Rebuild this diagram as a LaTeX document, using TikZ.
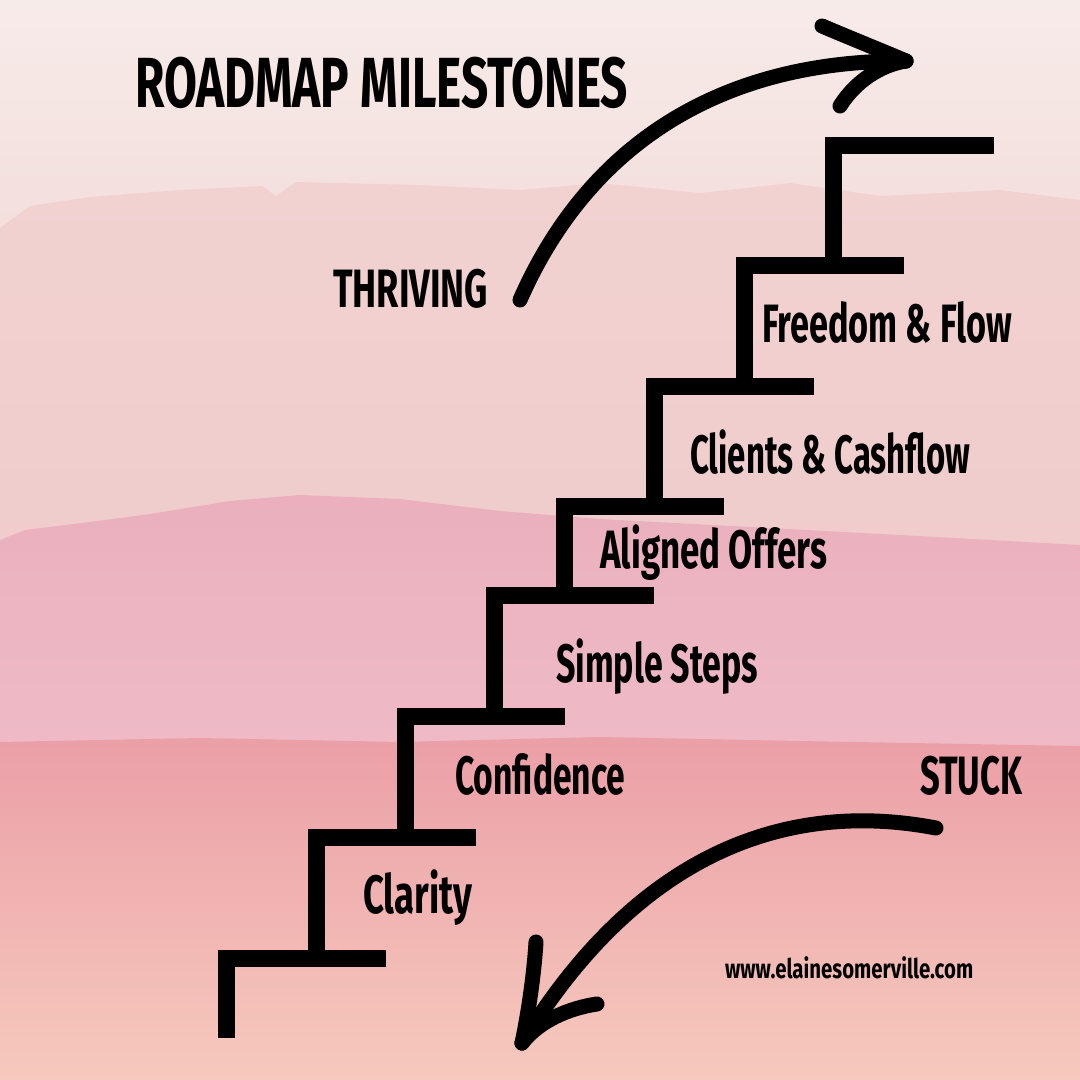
\documentclass[tikz,border=0pt]{standalone}
\usepackage{fontspec}
\setmainfont{Fira Sans}
\usepackage{graphicx}
\newcommand{\fitw}[2]{\resizebox{#1pt}{\height}{#2}}
\definecolor{bgA}{HTML}{F7EBE9}
\definecolor{bgB}{HTML}{F3DDDB}
\definecolor{bandA1}{HTML}{F1D2D1}
\definecolor{bandA2}{HTML}{F0CCCC}
\definecolor{bandB1}{HTML}{EBAFBD}
\definecolor{bandB2}{HTML}{F2C3CF}
\definecolor{bandB3}{HTML}{EFBBC7}
\definecolor{bandC1}{HTML}{EB9FA7}
\definecolor{bandC2}{HTML}{EFAEA9}
\definecolor{bandC3}{HTML}{F6C9BD}
\begin{document}
\begin{tikzpicture}[x=1pt,y=-1pt,
  stair/.style={line width=17pt, line join=miter, line cap=butt, black},
  arrowline/.style={line width=15pt, line cap=round, line join=round, black},
  lbl/.style={anchor=base west, inner sep=0pt, text=black, font=\fontsize{54}{60}\selectfont\bfseries},
  ttl/.style={anchor=base west, inner sep=0pt, text=black, font=\fontsize{71}{80}\selectfont\bfseries},
  web/.style={anchor=base west, inner sep=0pt, text=black, font=\fontsize{27}{30}\selectfont\bfseries}
]
\useasboundingbox (0,0) rectangle (1080,1080);
% background washes
\shade[top color=bgA, bottom color=bgB] (0,0) rectangle (1080,260);
\shade[top color=bandA1, bottom color=bandA2]
  (0,228) -- (30,206) -- (90,197) -- (180,190) -- (262,186) -- (276,196) -- (296,182)
  -- (420,185) -- (520,190) -- (600,183) -- (700,193) -- (790,183) -- (880,196)
  -- (1000,190) -- (1080,200) -- (1080,560) -- (0,560) -- cycle;
\shade[top color=bandB1, middle color=bandB2, bottom color=bandB3]
  (0,540) -- (25,530) -- (90,522) -- (150,514) -- (230,501) -- (300,495) -- (400,499)
  -- (500,511) -- (600,519) -- (750,527) -- (900,535) -- (1080,545) -- (1080,760) -- (0,760) -- cycle;
\shade[top color=bandC1, middle color=bandC2, bottom color=bandC3]
  (0,742) -- (200,738) -- (400,742) -- (600,737) -- (800,741) -- (1080,746) -- (1080,1080) -- (0,1080) -- cycle;

% stairs
\draw[stair] (226,1038) -- (226,958) -- (386,958);
\draw[stair] (316,958) -- (316,837) -- (476,837);
\draw[stair] (405,837) -- (405,716) -- (565,716);
\draw[stair] (494,716) -- (494,595) -- (654,595);
\draw[stair] (564,595) -- (564,506) -- (724,506);
\draw[stair] (654,506) -- (654,386) -- (814,386);
\draw[stair] (744,386) -- (744,265) -- (904,265);
\draw[stair] (833,265) -- (833,145) -- (994,145);

% arrows
\coordinate (upstart) at (520,300);
\coordinate (uptip) at (906,61);
\draw[arrowline] (upstart) .. controls (588,145) and (720,60) .. (uptip);
\draw[arrowline] (822,26) .. controls (855,40) and (885,52) .. (uptip);
\draw[arrowline] (840,106) .. controls (855,82) and (880,65) .. (uptip);

\coordinate (dnstart) at (936,828);
\coordinate (dntip) at (522,1043);
\draw[arrowline] (dnstart) .. controls (790,800) and (640,850) .. (dntip);
\draw[arrowline] (536,942) .. controls (534,975) and (528,1015) .. (dntip);
\draw[arrowline] (597,1004) .. controls (570,1008) and (540,1020) .. (dntip);

% texts
\node[ttl] (title) at (135,107) {\fitw{493}{ROADMAP MILESTONES}};
\node[lbl] (thriving) at (333,307) {\fitw{155}{THRIVING}};
\node[lbl] (freedom) at (762,342) {\fitw{250}{Freedom \& Flow}};
\node[lbl] (clients) at (690,473) {\fitw{280}{Clients \& Cashflow}};
\node[lbl] (aligned) at (600,568) {\fitw{227}{Aligned Offers}};
\node[lbl] (simple) at (556,682) {\fitw{202}{Simple Steps}};
\node[lbl] (confidence) at (455,794) {\fitw{170}{Confidence}};
\node[lbl] (stuck) at (920,794) {\fitw{102}{STUCK}};
\node[lbl] (clarity) at (363,913) {\fitw{109}{Clarity}};
\node[web] (website) at (725,978) {\fitw{248}{www.elainesomerville.com}};
\end{tikzpicture}
\end{document}
